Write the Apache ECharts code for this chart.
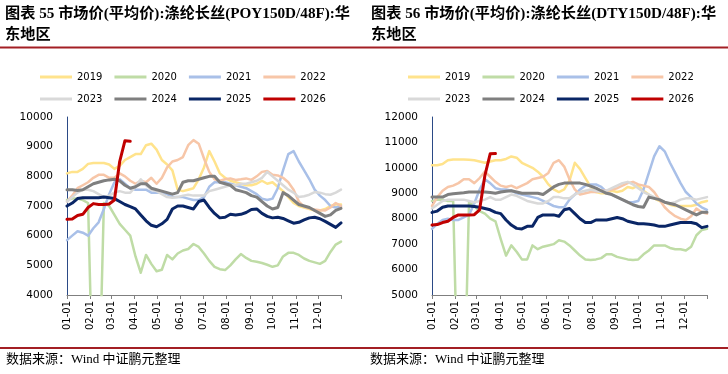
<!DOCTYPE html>
<html><head><meta charset="utf-8">
<script src="https://cdn.jsdelivr.net/npm/echarts@6/dist/echarts.min.js"></script>
<style>html,body{margin:0;padding:0;background:#fff}#c{width:728px;height:374px}</style>
</head><body><div id="c"></div><script>
// ---- data ----
const years = ['2019','2020','2021','2022','2023','2024','2025','2026'];
const monthTicks = ['01-01','02-01','03-01','04-01','05-01','06-01','07-01','08-01','09-01','10-01','11-01','12-01'];
const monthLengths = [31,28,31,30,31,30,31,31,30,31,30,31];
const weekStep = 7; // weekly observations

// POY150D/48F (left)
const poy2019 = [8100,8150,8150,8250,8420,8450,8450,8450,8400,8250,8350,8550,8650,8750,8750,9050,9100,8900,8550,8400,8200,7550,7500,7550,7600,7900,8300,8850,8500,8100,7950,7850,7800,7750,7700,7700,7750,7850,7750,7800,7650,7500,7300,7100,7000,6950,6900,6850,6850,6900,7000,7050,7050];
const poy2020 = [7200,7250,7250,7200,7100,0,0,7100,7000,6700,6400,6200,6000,5300,4750,5350,5050,4800,4850,5350,5200,5400,5500,5550,5720,5620,5400,5150,4950,4870,4840,5000,5200,5380,5250,5150,5120,5080,5020,4950,5000,5300,5420,5420,5350,5230,5150,5100,5050,5150,5450,5700,5800];
const poy2021 = [5850,6000,6150,6100,6000,6250,6450,6900,7400,7800,7900,7750,7600,7550,7550,7550,7450,7450,7450,7400,7300,7300,7300,7250,7200,7200,7300,7650,7800,7800,7800,7750,7700,7650,7600,7500,7400,7250,7200,7250,7600,8200,8750,8850,8500,8200,7900,7550,7350,7200,7000,6950,7000];
const poy2022 = [7150,7350,7600,7700,7800,7950,8050,8050,7950,7950,8100,8000,7850,7750,7850,7800,7950,7750,7950,8300,8500,8550,8650,9050,9220,9100,8600,8150,7900,7850,7900,7930,7880,7900,7930,7880,8000,8150,8180,8050,8030,7950,7800,7550,7150,6980,6920,6880,6860,6850,6950,7100,7000];
const poy2023 = [7150,7300,7450,7550,7550,7500,7400,7300,7350,7450,7500,7450,7450,7650,7900,7700,7550,7500,7400,7300,7280,7300,7350,7380,7350,7350,7350,7500,7550,7600,7650,7700,7700,7750,7750,7800,7850,7950,8150,8000,7850,7700,7550,7450,7300,7330,7380,7470,7450,7400,7380,7450,7550];
const poy2024 = [7550,7550,7520,7550,7650,7750,7800,7850,7880,7900,7850,7700,7600,7650,7750,7750,7600,7550,7500,7450,7400,7450,7800,7850,7850,7900,7950,8000,8000,7800,7750,7700,7550,7500,7450,7350,7300,7150,7000,6900,6950,7450,7350,7200,7050,7000,6950,6850,6750,6650,6700,6850,6920];
const poy2025 = [7000,7100,7250,7280,7280,7280,7280,7300,7280,7250,7150,7050,6980,6900,6700,6500,6350,6300,6400,6550,6900,7000,7000,6950,6900,7150,7200,6950,6750,6600,6620,6720,6700,6720,6780,6880,6900,6750,6650,6600,6620,6580,6500,6420,6450,6530,6600,6620,6570,6480,6380,6280,6430];
const poy2026 = [6550,6560,6680,6720,6950,7080,7050,7050,7070,7200,8500,9200,9180];

// DTY150D/48F (right)
const dty2019 = [10100,10100,10150,10300,10330,10330,10330,10320,10300,10250,10200,10250,10300,10300,10350,10450,10400,10200,10100,10000,9850,9650,9350,9150,9050,9150,9500,10200,9950,9600,9250,9050,9000,9000,9100,9050,9100,9250,9200,9300,9100,8950,8800,8700,8650,8550,8500,8500,8500,8500,8550,8650,8700];
const dty2020 = [8700,8750,8750,8700,8700,0,0,8650,8500,8300,8200,8000,7900,7200,6550,6950,6700,6400,6400,6950,6800,6900,6950,7000,7150,7100,6950,6750,6550,6400,6380,6400,6450,6600,6600,6500,6450,6400,6380,6400,6600,6750,6950,6950,6950,6850,6800,6800,6750,6900,7350,7550,7600];
const dty2021 = [7600,7800,7950,8000,7950,7950,8050,8150,8600,9150,9550,9400,9200,9150,9150,9100,9000,8950,8900,8850,8800,8700,8600,8500,8450,8450,8750,8950,9150,9300,9350,9350,9250,9050,8950,8850,8750,8650,8650,8700,9150,9800,10450,10850,10650,10200,9800,9400,9050,8850,8600,8450,8350];
const dty2022 = [8500,8850,9100,9250,9300,9400,9550,9550,9400,9600,9850,9650,9450,9300,9250,9300,9200,9300,9400,9550,9600,9650,9800,10200,10300,10050,9550,9150,8950,9000,9050,9050,9100,9100,9150,9200,9300,9400,9450,9350,9300,9250,9050,8750,8450,8250,8100,8000,7950,8100,8400,8250,8200];
const dty2023 = [8400,8550,8700,8750,8750,8750,8750,8700,8650,8700,8750,8850,8750,8750,8850,8950,8900,8800,8700,8650,8600,8600,8700,8850,8850,8800,8800,8950,9050,9100,9150,9100,9050,9100,9200,9300,9400,9450,9350,9200,9050,8950,8850,8750,8650,8600,8650,8750,8800,8800,8750,8800,8850];
const dty2024 = [8850,8850,8850,8950,8980,9000,9020,9050,9050,9050,9050,9030,9000,9050,9080,9100,9050,9000,9000,9000,9000,8950,9100,9250,9350,9400,9400,9400,9400,9350,9280,9200,9100,9000,8950,8850,8750,8650,8550,8480,8450,8850,8800,8750,8650,8600,8550,8450,8350,8250,8150,8250,8250];
const dty2025 = [8250,8300,8450,8500,8500,8500,8500,8500,8480,8450,8400,8350,8250,8200,7950,7750,7620,7600,7700,7700,8050,8150,8150,8150,8100,8350,8400,8200,8000,7850,7850,7950,7950,7950,8000,8050,8000,7900,7850,7800,7800,7780,7750,7700,7700,7750,7800,7850,7850,7850,7800,7650,7700];
const dty2026 = [7750,7770,7850,7900,8050,8150,8150,8150,8160,8350,9700,10550,10560];

const poySeries = [poy2019,poy2020,poy2021,poy2022,poy2023,poy2024,poy2025,poy2026];
const dtySeries = [dty2019,dty2020,dty2021,dty2022,dty2023,dty2024,dty2025,dty2026];

// ---- build daily category axis (MM-DD) ----
const days = [];
monthLengths.forEach((n, m) => {
  for (let d = 1; d <= n; d++) days.push(String(m + 1).padStart(2, '0') + '-' + String(d).padStart(2, '0'));
});

// ---- styles ----
const colors = ['#FFE38C','#BFDCA6','#A9C0E8','#F7C6A8','#D9D9D9','#7F7F7F','#0A2666','#C00000'];
const widths = [2.5,2.5,2.5,2.5,2.5,3,3,3];

const chart = echarts.init(document.getElementById('c'), null, {renderer: 'canvas'});

function makeSeries(arrs, idx) {
  return arrs.map((vals, i) => ({
    name: years[i], type: 'line', xAxisIndex: idx, yAxisIndex: idx,
    data: vals.map((v, k) => [k * weekStep, v]),
    showSymbol: false, symbol: 'none', clip: true, smooth: false,
    lineStyle: {color: colors[i], width: widths[i], cap: 'round', join: 'round'},
    itemStyle: {color: colors[i]},
    z: 2 + i
  }));
}

const isTick = (i, v) => monthTicks.includes(v);
const isTickOrEnd = (i, v) => monthTicks.includes(v) || i === days.length - 1;

function xAxis(gi) {
  return {
    type: 'category', gridIndex: gi, data: days, boundaryGap: false,
    axisLine: {lineStyle: {color: '#7F7F7F', width: 1}},
    axisTick: {show: true, interval: isTickOrEnd, length: 4, lineStyle: {color: '#7F7F7F'}},
    axisLabel: {interval: isTick, rotate: 90, margin: 6, fontSize: 10, color: '#000', fontFamily: '"DejaVu Sans"'},
    splitLine: {show: false}
  };
}
function yAxis(gi, min, max) {
  return {
    type: 'value', gridIndex: gi, min: min, max: max, interval: 1000,
    axisLine: {show: true, lineStyle: {color: '#2B4A86', width: 1}},
    axisTick: {show: false},
    axisLabel: {fontSize: 10.5, color: '#000', margin: 14, fontFamily: '"DejaVu Sans"', formatter: v => String(v)},
    splitLine: {show: false}
  };
}

const legendBase = {
  icon: 'rect', itemWidth: 32, itemHeight: 3, itemGap: 12, padding: 0,
  textStyle: {fontSize: 10, color: '#000', fontFamily: '"DejaVu Sans"'},
  selectedMode: false
};

const titleStyle = {fontSize: 15.2, fontWeight: 'bold', color: '#000', lineHeight: 21.5,
  fontFamily: '"Liberation Serif", "Noto Sans CJK SC"'};
const srcFont = {fontSize: 13, fontFamily: '"Liberation Serif", "Noto Sans CJK SC"', fill: '#000'};

chart.setOption({
  animation: false,
  title: [
    {text: '图表 55 市场价(平均价):涤纶长丝(POY150D/48F):华\n东地区', left: 5, top: 3, padding: 0, textStyle: titleStyle},
    {text: '图表 56 市场价(平均价):涤纶长丝(DTY150D/48F):华\n东地区', left: 371, top: 3, padding: 0, textStyle: titleStyle}
  ],
  legend: [
    Object.assign({}, legendBase, {data: years.slice(0,4), left: 40, top: 72}),
    Object.assign({}, legendBase, {data: years.slice(4), left: 40, top: 94}),
    Object.assign({}, legendBase, {data: years.slice(0,4), left: 408, top: 72}),
    Object.assign({}, legendBase, {data: years.slice(4), left: 408, top: 94})
  ],
  grid: [
    {left: 67, top: 117, width: 274, height: 178},
    {left: 432, top: 117, width: 275, height: 178}
  ],
  xAxis: [xAxis(0), xAxis(1)],
  yAxis: [yAxis(0, 4000, 10000), yAxis(1, 5000, 12000)],
  series: makeSeries(poySeries, 0).concat(makeSeries(dtySeries, 1)),
  graphic: [
    {type: 'line', shape: {x1: 0, y1: 47.5, x2: 728, y2: 47.5}, style: {stroke: '#A31F24', lineWidth: 2}, silent: true},
    {type: 'line', shape: {x1: 0, y1: 348, x2: 728, y2: 348}, style: {stroke: '#A31F24', lineWidth: 2}, silent: true},
    {type: 'text', left: 6, top: 353, style: Object.assign({text: '数据来源：Wind 中证鹏元整理'}, srcFont), silent: true},
    {type: 'text', left: 370, top: 353, style: Object.assign({text: '数据来源：Wind 中证鹏元整理'}, srcFont), silent: true}
  ]
});
</script></body></html>
